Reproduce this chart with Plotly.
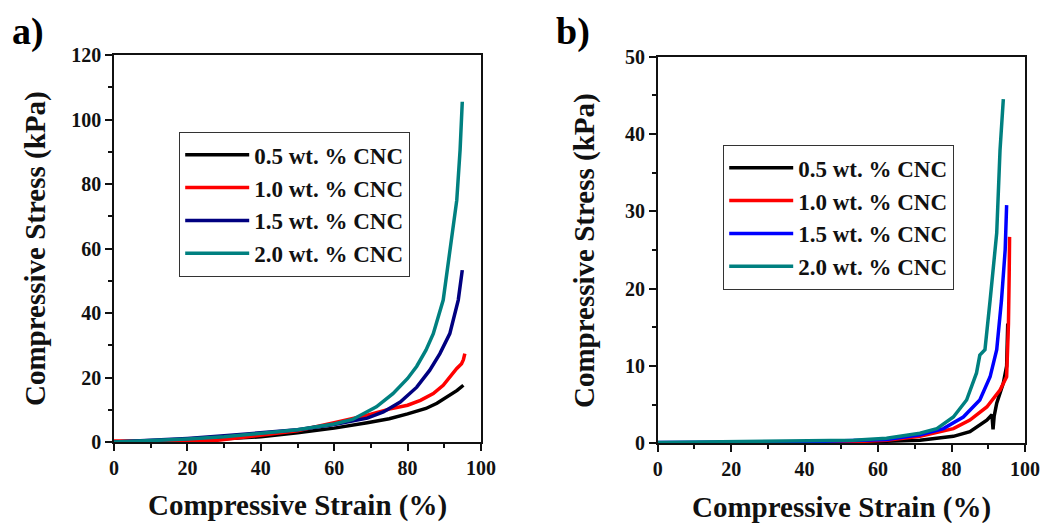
import plotly.graph_objects as go

# ---------------- data ----------------
series_names = ["0.5 wt. % CNC", "1.0 wt. % CNC", "1.5 wt. % CNC", "2.0 wt. % CNC"]

# Panel a
strain_a_05 = [0, 10, 20, 30, 40, 50, 60, 69, 75, 80, 85, 88, 91.5, 93.5, 95.2]
stress_a_05 = [0, 0.2, 0.5, 1.0, 1.6, 2.9, 4.3, 6.0, 7.2, 8.7, 10.4, 12.0, 14.5, 16.0, 17.6]

strain_a_10 = [0, 10, 20, 28, 40, 50, 60, 69, 75, 80, 83.5, 87, 89.7, 91.5, 93.4, 94.7, 95.2, 95.6]
stress_a_10 = [0.3, 0.2, 0.3, 0.5, 2.0, 3.5, 6.0, 8.3, 10.2, 11.4, 12.9, 15.0, 17.6, 20.2, 22.8, 24.3, 25.5, 27.4]

strain_a_15 = [0, 10, 20, 30, 40, 50, 60, 69, 73.4, 78, 82.5, 86, 88.8, 91.5, 93.8, 94.9]
stress_a_15 = [0, 0.5, 1.1, 1.9, 2.8, 3.8, 5.4, 7.4, 9.3, 12.4, 17.0, 22.2, 27.4, 33.6, 44.0, 53.3]

strain_a_20 = [0, 10, 20, 30, 40, 50, 60, 65, 71.5, 76, 80, 82.5, 85, 87, 89.7, 91.5, 93.4, 94.3, 94.9]
stress_a_20 = [0, 0.4, 0.9, 1.6, 2.6, 3.8, 5.6, 7.0, 10.9, 15.0, 19.7, 23.5, 28.5, 33.6, 44.0, 59.5, 75.0, 90.5, 105.5]

# Panel b
strain_b_05 = [0, 40, 53.3, 71.4, 80.5, 85, 89.6, 91.0, 91.3, 91.6, 92.3, 94.1, 95.0, 95.3]
stress_b_05 = [0.05, 0.08, 0.15, 0.4, 0.9, 1.5, 3.0, 3.7, 1.8, 3.5, 5.2, 7.8, 10.0, 15.5]

strain_b_10 = [0, 40, 53.3, 62.3, 71.4, 80.5, 85, 89.6, 93.2, 95.0, 95.5, 95.7, 95.8]
stress_b_10 = [0.05, 0.1, 0.2, 0.4, 0.9, 1.9, 3.0, 4.7, 6.9, 8.6, 15.5, 22.0, 26.7]

strain_b_15 = [0, 40, 53.3, 62.3, 71.4, 77.8, 83.2, 87.7, 90.5, 92.3, 93.6, 94.6, 95.0]
stress_b_15 = [0.1, 0.2, 0.35, 0.5, 1.1, 1.9, 3.4, 5.6, 8.6, 12.1, 18.5, 25.0, 30.8]

strain_b_20 = [0, 26, 53.3, 62.3, 71.4, 76, 80.5, 84.1, 86.8, 87.7, 89.1, 90.5, 92.3, 93.2, 94.1]
stress_b_20 = [0.1, 0.2, 0.4, 0.65, 1.3, 1.9, 3.4, 5.6, 9.1, 11.4, 12.1, 18.5, 27.2, 37.9, 44.5]

x_ticks = [0, 20, 40, 60, 80, 100]
y_ticks_a = [0, 20, 40, 60, 80, 100, 120]
y_ticks_b = [0, 10, 20, 30, 40, 50]

colors_a = ["#000000", "#ff0000", "#000080", "#008080"]
colors_b = ["#000000", "#ff0000", "#0000ff", "#008080"]

# ---------------- figure geometry ----------------
W, H = 1042, 523


def X(px):
    return px / W


def Y(py):
    return 1 - py / H


FONT = "Liberation Serif"
fig = go.Figure()

panel_a = [(strain_a_05, stress_a_05), (strain_a_10, stress_a_10),
           (strain_a_15, stress_a_15), (strain_a_20, stress_a_20)]
panel_b = [(strain_b_05, stress_b_05), (strain_b_10, stress_b_10),
           (strain_b_15, stress_b_15), (strain_b_20, stress_b_20)]

for (xs, ys), name, c in zip(panel_a, series_names, colors_a):
    fig.add_trace(go.Scatter(x=xs, y=ys, mode="lines", name=name,
                             line=dict(color=c, width=3.5),
                             xaxis="x", yaxis="y", legend="legend"))
for (xs, ys), name, c in zip(panel_b, series_names, colors_b):
    fig.add_trace(go.Scatter(x=xs, y=ys, mode="lines", name=name,
                             line=dict(color=c, width=3.5),
                             xaxis="x2", yaxis="y2", legend="legend2"))

tickfont = dict(family=FONT, size=20, color="#111", weight="bold")


def axis(domain, rng, tickvals, minor_dtick, anchor):
    return dict(domain=domain, range=rng, tickvals=tickvals, anchor=anchor,
                automargin=False,
                showline=True, linecolor="#111", linewidth=1.5, mirror=True,
                ticks="outside", ticklen=7, tickwidth=1.5, tickcolor="#111",
                showgrid=False, zeroline=False, tickfont=tickfont,
                minor=dict(dtick=minor_dtick, ticks="outside", ticklen=4,
                           tickwidth=1.5, tickcolor="#111", showgrid=False))


legend_font = dict(family=FONT, size=23, color="#111", weight="bold")

fig.update_layout(
    width=W, height=H,
    margin=dict(l=0, r=0, t=0, b=0, autoexpand=False),
    paper_bgcolor="white", plot_bgcolor="white",
    xaxis=axis([X(114), X(481)], [0, 100], x_ticks, 10, "y"),
    yaxis=axis([Y(442), Y(55)], [0, 120], y_ticks_a, 10, "x"),
    xaxis2=axis([X(657.7), X(1025)], [0, 100], x_ticks, 10, "y2"),
    yaxis2=axis([Y(443.3), Y(56.7)], [0, 50], y_ticks_b, 5, "x2"),
    legend=dict(x=X(179), y=Y(132), xanchor="left", yanchor="top",
                bgcolor="white", bordercolor="#333", borderwidth=1.2,
                font=legend_font, itemwidth=64, tracegroupgap=0),
    legend2=dict(x=X(723), y=Y(145), xanchor="left", yanchor="top",
                 bgcolor="white", bordercolor="#333", borderwidth=1.2,
                 font=legend_font, itemwidth=64, tracegroupgap=0),
    showlegend=True,
)

title_font = dict(family=FONT, size=29, color="#111", weight="bold")
label_font = dict(family=FONT, size=38, color="#000", weight="bold")
annotations = [
    dict(text="Compressive Strain (%)", x=X(297), y=Y(505), xref="paper", yref="paper",
         showarrow=False, font=title_font, xanchor="center", yanchor="middle"),
    dict(text="Compressive Strain (%)", x=X(841), y=Y(507), xref="paper", yref="paper",
         showarrow=False, font=title_font, xanchor="center", yanchor="middle"),
    dict(text="Compressive Stress (kPa)", x=X(35), y=Y(249), xref="paper", yref="paper",
         showarrow=False, font=title_font, textangle=-90, xanchor="center", yanchor="middle"),
    dict(text="Compressive Stress (kPa)", x=X(585), y=Y(251), xref="paper", yref="paper",
         showarrow=False, font=title_font, textangle=-90, xanchor="center", yanchor="middle"),
    dict(text="a)", x=X(28), y=Y(31), xref="paper", yref="paper", showarrow=False,
         font=label_font, xanchor="center", yanchor="middle"),
    dict(text="b)", x=X(573), y=Y(31), xref="paper", yref="paper", showarrow=False,
         font=label_font, xanchor="center", yanchor="middle"),
]
fig.update_layout(annotations=annotations)

# remove the browser's default page margin so the 1042x523 figure fills the window exactly
fig.write_html("out.html",
               config={"displayModeBar": False},
               post_script="document.body.style.margin='0';document.body.style.overflow='hidden';")
